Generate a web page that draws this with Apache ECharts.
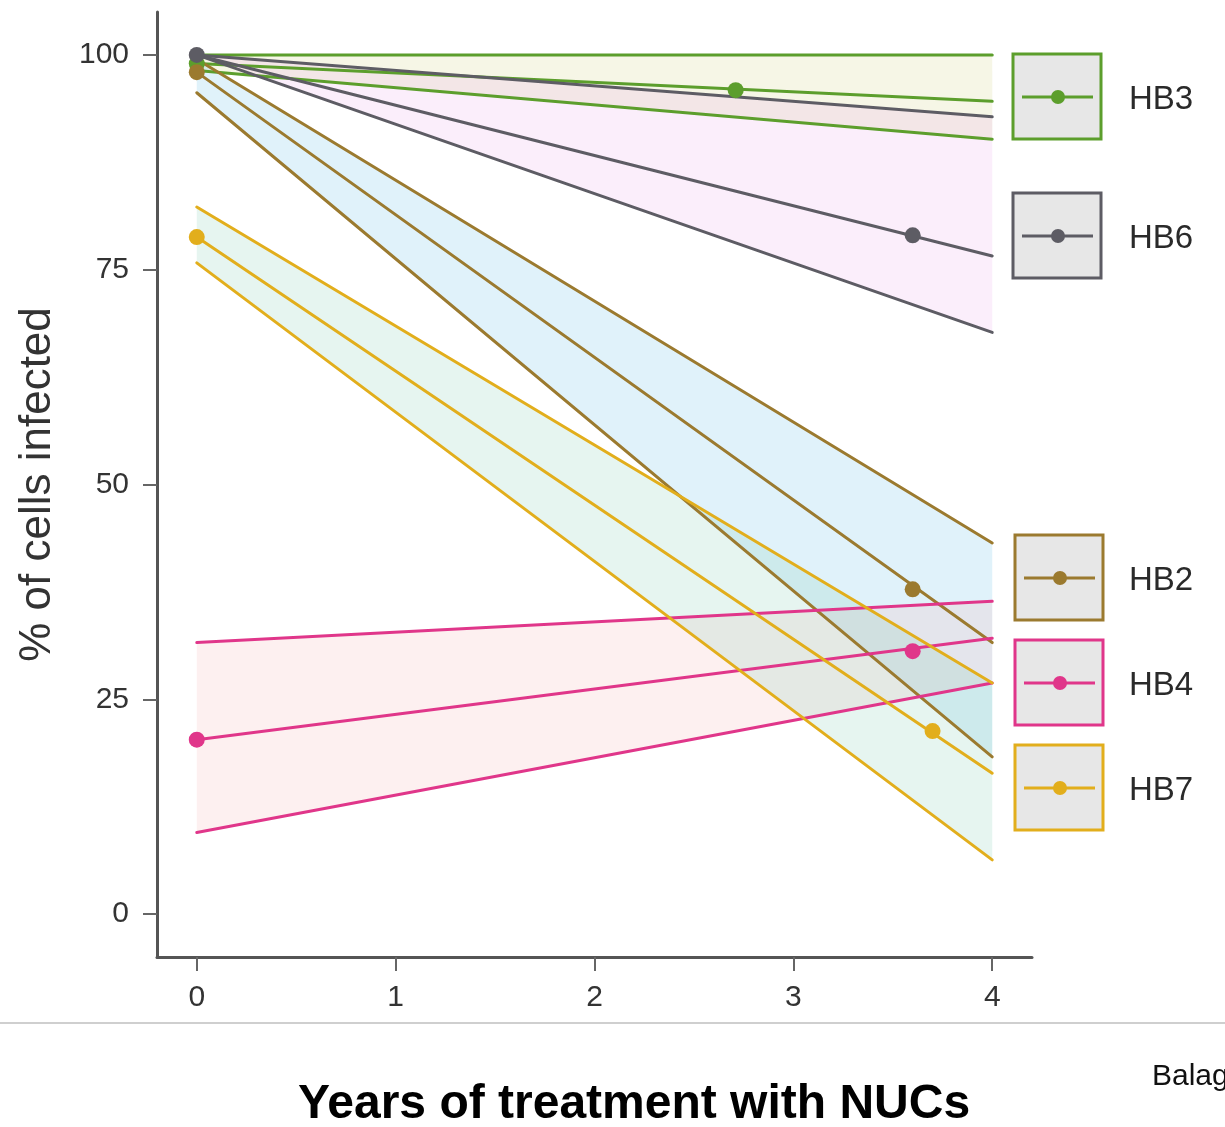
<!DOCTYPE html>
<html><head><meta charset="utf-8">
<script src="https://cdn.jsdelivr.net/npm/echarts@6/dist/echarts.min.js"></script>
<style>html,body{margin:0;padding:0;background:#fff}#chart{width:1225px;height:1127px}</style>
</head><body><div id="chart"></div>
<script>
// ---- data ----
const groups = ['HB3', 'HB6', 'HB2', 'HB4', 'HB7'];
const yearSpan = [0, 4];
const meanStart  = [99.0, 100.0, 98.0, 20.3, 78.8];
const meanEnd    = [94.6, 76.6, 31.6, 32.1, 16.4];
const upperStart = [100.0, 100.0, 99.5, 31.6, 82.3];
const upperEnd   = [100.0, 92.8, 43.2, 36.4, 26.9];
const lowerStart = [98.2, 100.0, 95.6, 9.5, 75.8];
const lowerEnd   = [90.2, 67.7, 18.3, 26.9, 6.3];
const obsYearFirst = [0, 0, 0, 0, 0];
const obsValueFirst = [99.0, 100.0, 98.0, 20.3, 78.8];
const obsYearLater = [2.71, 3.6, 3.6, 3.6, 3.7];
const obsValueLater = [95.9, 79.0, 37.8, 30.6, 21.3];
const yTicks = [0, 25, 50, 75, 100];
const xTicks = [0, 1, 2, 3, 4];

// ---- styles ----
const FONT = '"Liberation Sans", Arial, sans-serif';
const lineColors = ['#5c9e2c', '#5d5c64', '#9b7a2f', '#e0368a', '#e2ae1c'];
const fillColors = ['rgba(215,215,140,0.22)', 'rgba(235,170,235,0.2)', 'rgba(100,190,230,0.2)',
                    'rgba(245,180,180,0.2)', 'rgba(130,205,180,0.2)'];
const legendTops = [54, 193, 535, 640, 745];
const legendLefts = [1013, 1013, 1015, 1015, 1015];

const chart = echarts.init(document.getElementById('chart'), null, {renderer: 'canvas'});

const series = [];
// confidence bands
series.push({
  type: 'custom',
  z: 1,
  silent: true,
  encode: {x: [0, 1], y: [2, 3, 4, 5]},
  data: groups.map((g, i) => [yearSpan[0], yearSpan[1], lowerStart[i], lowerEnd[i], upperStart[i], upperEnd[i], i]),
  renderItem: function (params, api) {
    const x0 = api.value(0), x1 = api.value(1);
    const pts = [
      api.coord([x0, api.value(2)]),
      api.coord([x1, api.value(3)]),
      api.coord([x1, api.value(5)]),
      api.coord([x0, api.value(4)])
    ];
    return {type: 'polygon', shape: {points: pts}, style: {fill: fillColors[api.value(6)], stroke: null}};
  }
});

groups.forEach((g, i) => {
  const lineDefs = [
    [upperStart[i], upperEnd[i]],
    [lowerStart[i], lowerEnd[i]],
    [meanStart[i], meanEnd[i]]
  ];
  lineDefs.forEach((d) => {
    series.push({
      type: 'line', name: g, z: 2, silent: true,
      showSymbol: false, symbol: 'none',
      lineStyle: {color: lineColors[i], width: 3, cap: 'round'},
      data: [[yearSpan[0], d[0]], [yearSpan[1], d[1]]]
    });
  });
});
groups.forEach((g, i) => {
  series.push({
    type: 'scatter', name: g, z: 3, silent: true,
    symbolSize: 16,
    itemStyle: {color: lineColors[i], opacity: 1},
    data: [[obsYearFirst[i], obsValueFirst[i]], [obsYearLater[i], obsValueLater[i]]]
  });
});

// legend boxes drawn as graphics
const graphics = [];
groups.forEach((g, i) => {
  const L = legendLefts[i], T = legendTops[i];
  graphics.push({type: 'rect', shape: {x: L, y: T, width: 88, height: 85},
    style: {fill: '#e7e7e7', stroke: lineColors[i], lineWidth: 3}});
  graphics.push({type: 'line', shape: {x1: L + 9, y1: T + 43, x2: L + 80, y2: T + 43},
    style: {stroke: lineColors[i], lineWidth: 3}});
  graphics.push({type: 'circle', shape: {cx: L + 45, cy: T + 43, r: 7},
    style: {fill: lineColors[i]}});
  graphics.push({type: 'text',
    style: {x: 1129, y: T + 46, text: g, fill: '#2a2a2a', font: '33px ' + FONT,
      align: 'left', verticalAlign: 'middle'}});
});
graphics.push({type: 'line', shape: {x1: 0, y1: 1023, x2: 1225, y2: 1023},
  style: {stroke: '#cfcfcf', lineWidth: 2}});
graphics.push({type: 'text',
  style: {x: 634, y: 1105, text: 'Years of treatment with NUCs', fill: '#000',
    font: 'bold 48px ' + FONT, align: 'center', verticalAlign: 'middle'}});
graphics.push({type: 'text',
  style: {x: 1152, y: 1077, text: 'Balag', fill: '#111', font: '30px ' + FONT,
    align: 'left', verticalAlign: 'middle'}});

const option = {
  backgroundColor: '#fff',
  animation: false,
  grid: {left: 157, right: 193, top: 12, bottom: 170, containLabel: false},
  xAxis: {
    type: 'value', min: -0.2, max: 4.2,
    splitLine: {show: false},
    axisLine: {onZero: false, lineStyle: {color: '#555', width: 3}},
    axisTick: {customValues: xTicks, length: 14, lineStyle: {color: '#666', width: 2}},
    axisLabel: {customValues: xTicks, margin: 26, fontSize: 30, color: '#333', fontFamily: FONT}
  },
  yAxis: {
    type: 'value', min: -5, max: 105,
    name: '% of cells infected', nameLocation: 'middle', nameGap: 97, nameRotate: 90,
    nameTextStyle: {fontSize: 44, color: '#333', fontFamily: FONT},
    splitLine: {show: false},
    axisLine: {onZero: false, lineStyle: {color: '#555', width: 3}},
    axisTick: {customValues: yTicks, length: 14, lineStyle: {color: '#666', width: 2}},
    axisLabel: {customValues: yTicks, margin: 28, fontSize: 30, color: '#333', fontFamily: FONT}
  },
  graphic: graphics,
  series: series
};
chart.setOption(option);
</script>
</body></html>
